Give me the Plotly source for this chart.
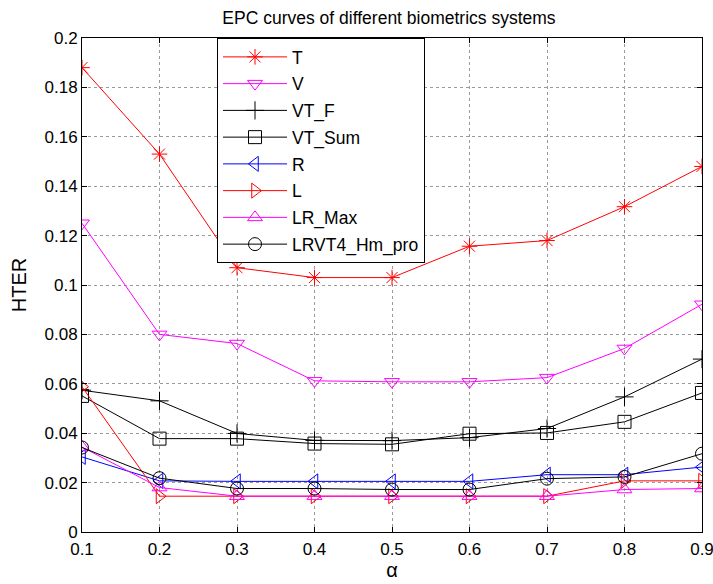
import plotly.graph_objects as go

alpha = [0.1, 0.2, 0.3, 0.4, 0.5, 0.6, 0.7, 0.8, 0.9]

T = [0.188, 0.153, 0.107, 0.103, 0.103, 0.1157, 0.118, 0.1317, 0.148]
V = [0.125, 0.080, 0.0763, 0.0612, 0.0608, 0.0608, 0.0625, 0.0743, 0.0922]
VT_F = [0.0574, 0.0531, 0.0399, 0.0371, 0.0370, 0.0382, 0.0419, 0.0547, 0.0700]
VT_Sum = [0.0551, 0.0378, 0.0378, 0.0358, 0.0355, 0.0398, 0.0401, 0.0446, 0.0563]
R = [0.0304, 0.0207, 0.0205, 0.0205, 0.0205, 0.0205, 0.0232, 0.0232, 0.0263]
L = [0.0588, 0.0145, 0.0145, 0.0145, 0.0145, 0.0145, 0.0145, 0.0207, 0.0207]
LR_Max = [0.0344, 0.0180, 0.0145, 0.0145, 0.0145, 0.0145, 0.0145, 0.0172, 0.0176]
LRVT4 = [0.0342, 0.0218, 0.0176, 0.0176, 0.0172, 0.0172, 0.0216, 0.0223, 0.0317]

series = [
    ("T", T, "#FF0000", "asterisk-open"),
    ("V", V, "#FF00FF", "triangle-down-open"),
    ("VT_F", VT_F, "#000000", "cross-thin-open"),
    ("VT_Sum", VT_Sum, "#000000", "square-open"),
    ("R", R, "#0000FF", "triangle-left-open"),
    ("L", L, "#FF0000", "triangle-right-open"),
    ("LR_Max", LR_Max, "#FF00FF", "triangle-up-open"),
    ("LRVT4_Hm_pro", LRVT4, "#000000", "circle-open"),
]

y_ticks = [0, 0.02, 0.04, 0.06, 0.08, 0.1, 0.12, 0.14, 0.16, 0.18, 0.2]
y_tick_text = ["0", "0.02", "0.04", "0.06", "0.08", "0.1", "0.12", "0.14", "0.16", "0.18", "0.2"]

fig = go.Figure()
for i, (name, vals, color, sym) in enumerate(series):
    fig.add_trace(go.Scatter(
        x=alpha, y=vals, name=name, mode="lines+markers",
        line=dict(color=color, width=1),
        marker=dict(symbol=sym, size=13, color=color, line=dict(color=color, width=1)),
        legendgroup=f"g{i}",
    ))

font = "Liberation Sans, Arial, sans-serif"
fig.update_layout(
    width=713, height=584,
    margin=dict(l=82, r=11, t=38, b=52, autoexpand=False),
    paper_bgcolor="white", plot_bgcolor="white",
    font=dict(family=font, size=17, color="black"),
    title=dict(text="EPC curves of different biometrics systems", x=389 / 713, xanchor="center",
               y=1 - 18 / 584, yanchor="middle", font=dict(size=17.5)),
    showlegend=True,
    legend=dict(x=(217 - 82) / 620, y=1, xanchor="left", yanchor="top",
                bordercolor="black", borderwidth=1, bgcolor="white",
                font=dict(size=17.5), tracegroupgap=1, traceorder="grouped",
                itemwidth=64),
    xaxis=dict(range=[0.1, 0.9], tickvals=alpha, ticktext=[f"{a:.1f}" for a in alpha],
               automargin=False, ticklabeloverflow="allow", ticklabelstandoff=2,
               showline=True, linecolor="black", linewidth=1, mirror="ticks",
               ticks="inside", ticklen=5, tickcolor="black",
               showgrid=True, gridcolor="#9a9a9a", griddash="dot", gridwidth=1,
               zeroline=False, title=dict(text="α", standoff=4)),
    yaxis=dict(range=[0, 0.2], tickvals=y_ticks, ticktext=y_tick_text,
               automargin=False, ticklabeloverflow="allow",
               showline=True, linecolor="black", linewidth=1, mirror="ticks",
               ticks="inside", ticklen=5, tickcolor="black",
               showgrid=True, gridcolor="#9a9a9a", griddash="dot", gridwidth=1,
               zeroline=False, title=dict(text="HTER", standoff=12)),
)

fig.write_html("out.html")
